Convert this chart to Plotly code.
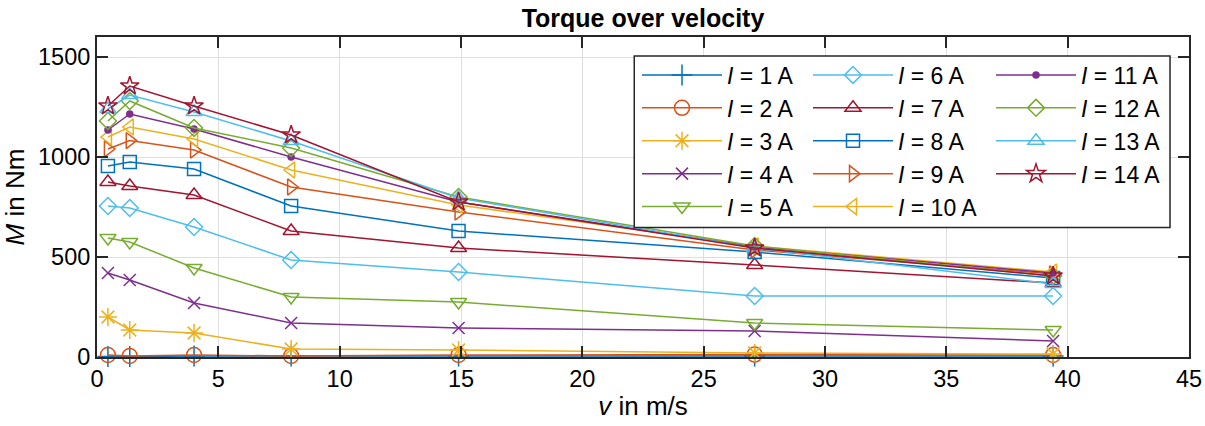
import plotly.graph_objects as go

# ---------------- data ----------------
velocity = [0.45, 1.35, 4, 8, 14.9, 27.1, 39.4]  # v in m/s

current_labels = [1, 2, 3, 4, 5, 6, 7, 8, 9, 10, 11, 12, 13, 14]  # I in A

torque_1A = [3, 2, 5, 5, 5, 5, 5]
torque_2A = [10, 5, 10, 5, 10, 12, 10]
torque_3A = [200, 135, 120, 40, 35, 20, 15]
torque_4A = [420, 385, 270, 170, 145, 130, 80]
torque_5A = [595, 575, 445, 300, 275, 170, 135]
torque_6A = [755, 745, 650, 485, 425, 305, 305]
torque_7A = [875, 855, 810, 630, 545, 460, 370]
torque_8A = [955, 975, 940, 755, 630, 525, 395]
torque_9A = [1040, 1082, 1035, 850, 725, 535, 415]
torque_10A = [1100, 1150, 1090, 935, 760, 555, 425]
torque_11A = [1135, 1215, 1140, 1000, 775, 550, 420]
torque_12A = [1180, 1280, 1145, 1045, 800, 555, 405]
torque_13A = [1240, 1310, 1225, 1080, 795, 545, 365]
torque_14A = [1255, 1355, 1255, 1110, 775, 545, 405]

x_ticks = [0, 5, 10, 15, 20, 25, 30, 35, 40, 45]
y_ticks = [0, 500, 1000, 1500]

# ---------------- styles ----------------
series = [torque_1A, torque_2A, torque_3A, torque_4A, torque_5A, torque_6A, torque_7A,
          torque_8A, torque_9A, torque_10A, torque_11A, torque_12A, torque_13A, torque_14A]
colors = ["#0072BD", "#D95319", "#EDB120", "#7E2F8E", "#77AC30", "#4DBEEE", "#A2142F",
          "#0072BD", "#D95319", "#EDB120", "#7E2F8E", "#77AC30", "#4DBEEE", "#A2142F"]
symbols = ["cross-thin-open", "circle-open", "asterisk-open", "x-thin-open", "triangle-down-open",
           "diamond-open", "triangle-up-open", "square-open", "triangle-right-open",
           "triangle-left-open", "circle", "diamond-open", "triangle-up-open", "star-open"]
sizes = [15, 15, 15, 12, 14, 13, 14, 13, 14, 14, 6, 13, 14, 14]
legend_ids = ["legend"] * 5 + ["legend2"] * 5 + ["legend3"] * 4

FONT = "Liberation Sans, Arial, sans-serif"
AX = "#262626"

fig = go.Figure()
for cur, vals, col, sym, sz, lg in zip(current_labels, series, colors, symbols, sizes, legend_ids):
    fig.add_trace(go.Scatter(
        x=velocity, y=vals, mode="lines+markers",
        name=f"<i>I</i> = {cur} A",
        line=dict(color=col, width=1.5),
        marker=dict(symbol=sym, size=sz, color=col, line=dict(color=col, width=1.5)),
        cliponaxis=False,
        legend=lg,
    ))

axis_common = dict(
    showline=True, linecolor=AX, linewidth=2, mirror="ticks",
    ticks="inside", ticklen=11, tickwidth=1.5, tickcolor=AX,
    showgrid=True, gridcolor="#DEDEDE", gridwidth=1,
    zeroline=False,
    tickfont=dict(family=FONT, size=23.5, color="#000000"),
)

fig.update_xaxes(range=[0, 45], tickvals=x_ticks,
                 title=dict(text="<i>v</i> in m/s", font=dict(family=FONT, size=26, color="#000000"),
                            standoff=6),
                 **axis_common)
fig.update_yaxes(range=[0, 1600], tickvals=y_ticks,
                 title=dict(text="<i>M</i> in Nm", font=dict(family=FONT, size=26, color="#000000"),
                            standoff=8),
                 **axis_common)

leg_common = dict(
    xref="container", yref="container", xanchor="left", yanchor="top",
    bgcolor="rgba(0,0,0,0)", borderwidth=0, itemwidth=80,
    font=dict(family=FONT, size=23, color="#000000"),
    tracegroupgap=0,
)
y_leg = 1 - 53.5 / 426
fig.update_layout(
    legend=dict(x=637 / 1205, y=y_leg, **leg_common),
    legend2=dict(x=808 / 1205, y=y_leg, **leg_common),
    legend3=dict(x=991 / 1205, y=y_leg, **leg_common),
)

# legend frame
fig.add_shape(type="rect", xref="paper", yref="paper",
              x0=(634 - 96.5) / 1092.5, x1=(1170 - 96.5) / 1092.5,
              y0=(357 - 227.5) / 320, y1=(357 - 56) / 320,
              line=dict(color=AX, width=1.5), fillcolor="white", layer="above")

fig.update_layout(
    width=1205, height=426,
    margin=dict(l=96.5, r=16, t=37, b=69, autoexpand=False),
    paper_bgcolor="white", plot_bgcolor="white",
    title=dict(text="<b>Torque over velocity</b>", x=0.5, xanchor="center",
               xref="paper", y=1 - 18 / 426, yanchor="middle",
               font=dict(family=FONT, size=25, color="#000000")),
    showlegend=True,
    font=dict(family=FONT, color="#000000"),
)

fig.write_html("out.html")
